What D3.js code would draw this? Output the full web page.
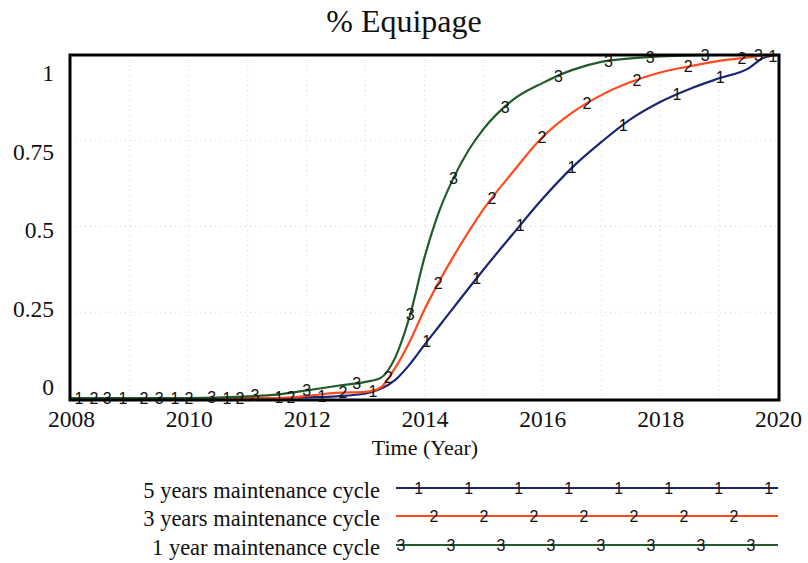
<!DOCTYPE html>
<html>
<head>
<meta charset="utf-8">
<script src="https://cdn.jsdelivr.net/npm/d3@7"></script>
<style>
  html, body { margin: 0; padding: 0; background: #fff; }
  svg { display: block; }
  text { font-family: "Liberation Serif", "Times New Roman", serif; fill: #111; }
</style>
</head>
<body>
<svg id="chart" width="808" height="563"></svg>
<script>
// Simulation time points (years)
const times = [2008, 2009, 2010, 2011, 2011.5, 2012, 2012.5, 2013, 2013.25, 2013.5, 2013.75,
  2014, 2014.25, 2014.5, 2014.75, 2015, 2015.5, 2016, 2016.5, 2017, 2017.5,
  2018, 2018.5, 2019, 2019.5, 2019.75, 2020];

// Share of equipment available, per maintenance policy
const fiveYears = [0, 0, 0, 0, 0, 0.002, 0.005, 0.013, 0.026, 0.052, 0.098,
  0.155, 0.21, 0.265, 0.32, 0.374, 0.478, 0.58, 0.671, 0.746, 0.813,
  0.863, 0.901, 0.932, 0.961, 0.991, 1.0];
const threeYears = [0, 0, 0, 0, 0, 0.006, 0.015, 0.018, 0.03, 0.087, 0.165,
  0.258, 0.34, 0.415, 0.485, 0.55, 0.659, 0.76, 0.831, 0.883, 0.921,
  0.949, 0.967, 0.983, 0.993, 0.999, 1.0];
const oneYear = [0, 0, 0, 0.005, 0.01, 0.022, 0.035, 0.047, 0.058, 0.117, 0.239,
  0.41, 0.545, 0.644, 0.723, 0.784, 0.869, 0.918, 0.956, 0.98, 0.99,
  0.996, 0.999, 1.0, 1.0, 1.0, 1.0];

// Times at which each run's number marker is printed on its curve
const fiveYearsMarks = [2008.136, 2008.883, 2009.766, 2010.649, 2011.531, 2012.261, 2013.127,
  2014.039, 2014.888, 2015.623, 2016.501, 2017.372, 2018.284, 2019.02, 2019.913];
const threeYearsMarks = [2008.39, 2009.239, 2010.003, 2010.869, 2011.735, 2012.618, 2013.382,
  2014.231, 2015.143, 2015.992, 2016.756, 2017.605, 2018.476, 2019.387];
const oneYearMarks = [2008.616, 2009.499, 2010.389, 2011.124, 2012.002, 2012.851, 2013.756,
  2014.491, 2015.368, 2016.273, 2017.122, 2017.83, 2018.764, 2019.669];

const xTicks = [2008, 2010, 2012, 2014, 2016, 2018, 2020];
const yTicks = [0, 0.25, 0.5, 0.75, 1];
const yTickLabels = ["0", "0.25", "0.5", "0.75", "1"];

const seriesNames = ["5 years maintenance cycle", "3 years maintenance cycle", "1 year maintenance cycle"];
const seriesTags = ["1", "2", "3"];

const series = [
  { name: seriesNames[0], tag: seriesTags[0], values: fiveYears, marks: fiveYearsMarks, color: "#1b2574" },
  { name: seriesNames[1], tag: seriesTags[1], values: threeYears, marks: threeYearsMarks, color: "#ff4a1c" },
  { name: seriesNames[2], tag: seriesTags[2], values: oneYear, marks: oneYearMarks, color: "#1f5c2a" }
];

const svg = d3.select("#chart");
const box = { left: 70, right: 779, top: 55, bottom: 400 };

const x = d3.scaleLinear().domain([2008, 2020]).range([71, 778]);
const y = d3.scaleLinear().domain([0, 1]).range([398, 55]);
// tick labels sit slightly inside the frame, as this plotting tool draws them
const yLabel = d3.scaleLinear().domain([0, 1]).range([387, 73]);

// Title
svg.append("text")
  .attr("x", 404).attr("y", 32)
  .attr("text-anchor", "middle")
  .style("font-size", "32px")
  .text("% Equipage");

// Faint dotted grid
const grid = svg.append("g")
  .attr("stroke", "#d4d4d4").attr("stroke-width", 1).attr("stroke-dasharray", "1,4");
grid.selectAll("line.v").data(d3.range(2009, 2020)).join("line")
  .attr("x1", d => x(d)).attr("x2", d => x(d))
  .attr("y1", box.top).attr("y2", box.bottom);
grid.selectAll("line.h").data([0.25, 0.5, 0.75]).join("line")
  .attr("x1", box.left).attr("x2", box.right)
  .attr("y1", d => y(d)).attr("y2", d => y(d));

// Axes labels via d3 axes (ticks hidden, frame drawn separately)
const xAxis = svg.append("g")
  .attr("transform", `translate(0,${box.bottom})`)
  .call(d3.axisBottom(x).tickValues(xTicks).tickFormat(d3.format("d")).tickSize(0).tickPadding(10));
xAxis.select(".domain").remove();
xAxis.selectAll("text").style("font-size", "23.5px").attr("fill", "#111")
  .style("font-family", "'Liberation Serif', 'Times New Roman', serif");

const yAxis = svg.append("g")
  .attr("transform", "translate(54,0)")
  .call(d3.axisLeft(yLabel).tickValues(yTicks).tickFormat((d, i) => yTickLabels[i]).tickSize(0).tickPadding(0));
yAxis.select(".domain").remove();
yAxis.selectAll("text").style("font-size", "23.5px").attr("fill", "#111")
  .style("font-family", "'Liberation Serif', 'Times New Roman', serif");

svg.append("text")
  .attr("x", 425).attr("y", 455)
  .attr("text-anchor", "middle")
  .style("font-size", "22px")
  .text("Time (Year)");

// Curves
const line = d3.line()
  .x((d, i) => x(times[i]))
  .y(d => y(d))
  .curve(d3.curveMonotoneX);

function valueAt(values, t) {
  const i = Math.max(1, Math.min(times.length - 1, d3.bisectLeft(times, t)));
  const t0 = times[i - 1], t1 = times[i];
  const k = (t - t0) / (t1 - t0);
  return values[i - 1] + (values[i] - values[i - 1]) * k;
}

const curves = svg.append("g");
series.forEach(s => {
  curves.append("path")
    .datum(s.values)
    .attr("fill", "none")
    .attr("stroke", s.color)
    .attr("stroke-width", 2.2)
    .attr("stroke-linejoin", "round")
    .attr("d", line);
});

// Frame
svg.append("rect")
  .attr("x", box.left).attr("y", box.top)
  .attr("width", box.right - box.left).attr("height", box.bottom - box.top)
  .attr("fill", "none").attr("stroke", "#000").attr("stroke-width", 3);

// Number markers on the curves (drawn over the frame, as the bottom ones overlap it)
series.forEach(s => {
  svg.append("g").selectAll("text").data(s.marks).join("text")
    .attr("x", d => x(d))
    .attr("y", d => y(valueAt(s.values, d)))
    .attr("text-anchor", "middle")
    .attr("dominant-baseline", "central")
    .style("font-family", "'Liberation Sans', Arial, sans-serif")
    .style("font-size", "16px")
    .attr("fill", s.color)
    .text(s.tag);
});

// Legend
const legendRows = [488, 516, 545];
const legend = svg.append("g");
series.forEach((s, i) => {
  const ly = legendRows[i];
  legend.append("text")
    .attr("x", 380).attr("y", ly + 10)
    .attr("text-anchor", "end")
    .style("font-size", "22.5px")
    .text(s.name);
  legend.append("line")
    .attr("x1", 396).attr("x2", 778)
    .attr("y1", ly).attr("y2", ly)
    .attr("stroke", s.color).attr("stroke-width", 2.2);
  const start = [418.6, 434, 401][i];
  const count = i === 1 ? 7 : 8;
  legend.selectAll(null).data(d3.range(count)).join("text")
    .attr("x", k => start + k * 50)
    .attr("y", ly)
    .attr("text-anchor", "middle")
    .attr("dominant-baseline", "central")
    .style("font-family", "'Liberation Sans', Arial, sans-serif")
    .style("font-size", "16px")
    .attr("fill", s.color)
    .text(s.tag);
});
</script>
</body>
</html>
